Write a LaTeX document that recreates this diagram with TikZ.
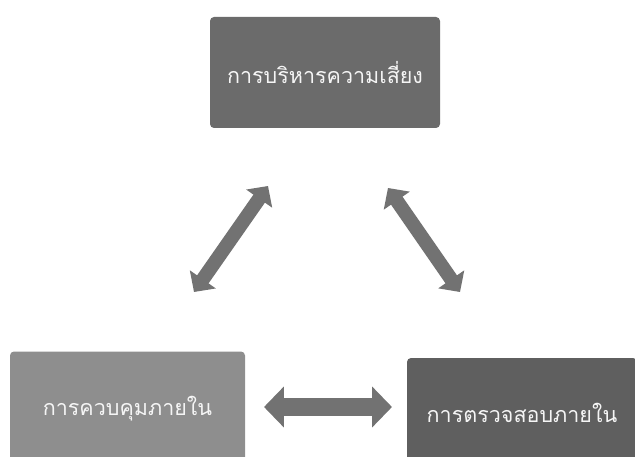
\documentclass[tikz,border=0pt]{standalone}
\usepackage{fontspec}
\newfontfamily\thaifont[Script=Thai]{Loma}
\usetikzlibrary{arrows.meta}
\definecolor{boxtop}{HTML}{6B6B6B}
\definecolor{boxleft}{HTML}{8E8E8E}
\definecolor{boxright}{HTML}{5F5F5F}
\definecolor{arrowgray}{HTML}{727272}
\tikzset{
  box/.style={draw=none, rounded corners=4pt, inner sep=0pt, text=white!92!gray,
    font=\thaifont\fontsize{21.5}{24}\selectfont},
  dblarrow/.style={line width=#1, draw=arrowgray,
    {Triangle[width=2.2*#1,length=1.1*#1]}-{Triangle[width=2.2*#1,length=1.1*#1]}},
}
\begin{document}
\begin{tikzpicture}[x=1pt,y=-1pt]
\useasboundingbox (0,0) rectangle (635,457);
\node[box, fill=boxtop, minimum width=230pt, minimum height=111pt] (risk) at (325,72.5) {การบริหารความเสี่ยง};
\node[box, fill=boxleft, minimum width=235pt, minimum height=115pt] (control) at (127.5,409) {การควบคุมภายใน};
\node[box, fill=boxright, minimum width=230pt, minimum height=110pt] (audit) at (522,413) {การตรวจสอบภายใน};
\coordinate (l1) at (194,292);
\coordinate (l2) at (268,186);
\coordinate (r1) at (388,188);
\coordinate (r2) at (460,292);
\coordinate (h1) at (264,407);
\coordinate (h2) at (392,407);
\draw[dblarrow=14pt] (l1) -- (l2);
\draw[dblarrow=14pt] (r1) -- (r2);
\draw[dblarrow=18pt] (h1) -- (h2);
\end{tikzpicture}
\end{document}
